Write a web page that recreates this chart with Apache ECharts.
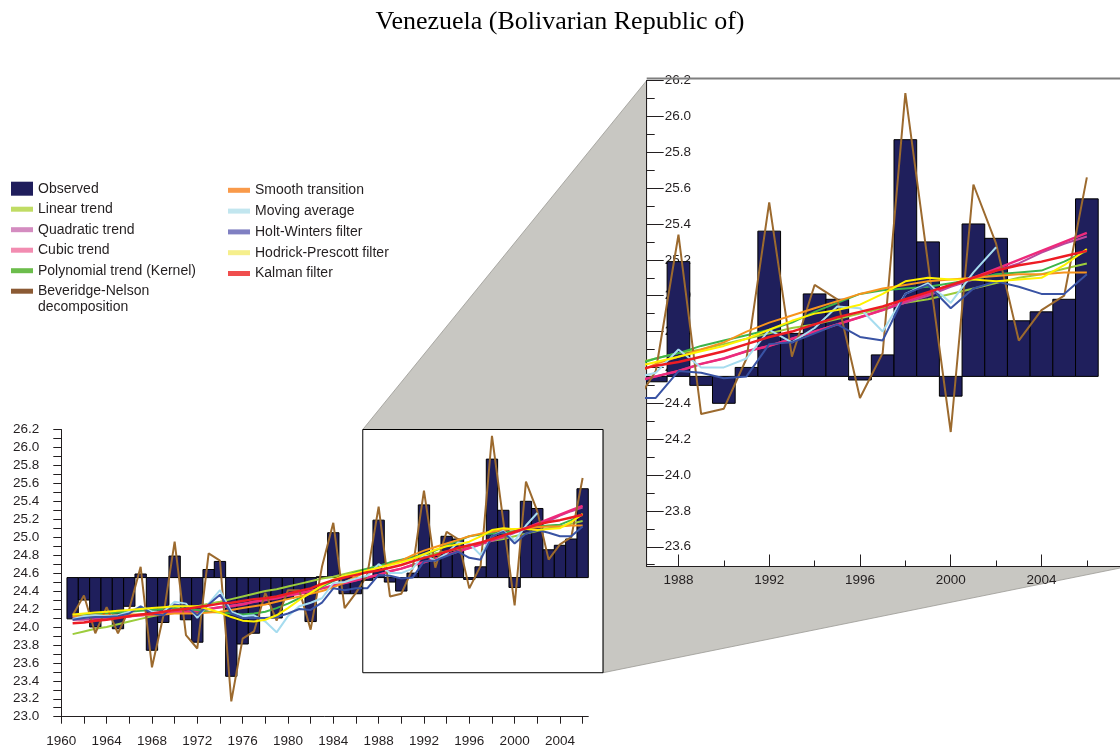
<!DOCTYPE html>
<html><head><meta charset="utf-8">
<script src="https://cdn.jsdelivr.net/npm/echarts@6/dist/echarts.min.js"></script>
<style>html,body{margin:0;padding:0;background:#fff}#c{width:1120px;height:750px}</style>
</head><body><div id="c"></div>
<script>
const titleText = 'Venezuela (Bolivarian Republic of)';
const years = [1961,1962,1963,1964,1965,1966,1967,1968,1969,1970,1971,1972,1973,1974,1975,1976,1977,1978,1979,1980,1981,1982,1983,1984,1985,1986,1987,1988,1989,1990,1991,1992,1993,1994,1995,1996,1997,1998,1999,2000,2001,2002,2003,2004,2005,2006];
const baseline = 24.55;
const observed = [24.09,24.30,24.00,24.17,23.98,24.23,24.59,23.74,24.05,24.79,24.08,23.83,24.64,24.73,23.45,23.81,23.93,24.25,24.10,24.32,24.38,24.06,24.56,25.05,24.37,24.37,24.52,25.19,24.50,24.40,24.60,25.36,24.79,25.01,24.98,24.53,24.67,25.87,25.30,24.44,25.40,25.32,24.86,24.91,24.98,25.54];
const linearTrend = [23.92,23.95,23.98,24.00,24.03,24.06,24.09,24.12,24.14,24.17,24.20,24.23,24.26,24.28,24.31,24.34,24.37,24.40,24.42,24.45,24.48,24.51,24.54,24.56,24.59,24.62,24.65,24.68,24.70,24.73,24.76,24.79,24.82,24.84,24.87,24.90,24.93,24.96,24.98,25.01,25.04,25.07,25.10,25.12,25.15,25.18];
const quadraticTrend = [24.08,24.08,24.09,24.10,24.11,24.12,24.13,24.14,24.15,24.16,24.17,24.19,24.20,24.22,24.24,24.26,24.28,24.30,24.33,24.35,24.38,24.40,24.43,24.46,24.49,24.52,24.55,24.58,24.62,24.65,24.69,24.72,24.76,24.80,24.84,24.88,24.92,24.96,25.00,25.05,25.09,25.14,25.18,25.24,25.29,25.33];
const cubicTrend = [24.11,24.11,24.11,24.11,24.12,24.12,24.13,24.14,24.15,24.16,24.17,24.18,24.20,24.22,24.23,24.25,24.28,24.30,24.32,24.35,24.37,24.40,24.43,24.46,24.49,24.52,24.55,24.58,24.62,24.65,24.69,24.72,24.76,24.80,24.84,24.88,24.92,24.97,25.01,25.06,25.10,25.15,25.20,25.25,25.30,25.35];
const kernelTrend = [24.12,24.13,24.14,24.15,24.16,24.17,24.18,24.19,24.20,24.21,24.20,24.19,24.17,24.16,24.15,24.14,24.15,24.17,24.21,24.26,24.32,24.38,24.45,24.51,24.56,24.61,24.65,24.68,24.72,24.75,24.78,24.81,24.85,24.91,24.96,25.01,25.03,25.04,25.05,25.07,25.09,25.12,25.13,25.14,25.19,25.25];
const beveridgeNelson = [24.13,24.35,23.93,24.22,23.93,24.20,24.67,23.55,24.12,24.95,23.91,23.76,24.82,24.74,23.17,23.87,23.95,24.38,24.07,24.41,24.41,23.97,24.67,25.16,24.21,24.38,24.58,25.34,24.34,24.37,24.65,25.52,24.66,25.06,24.98,24.43,24.68,26.13,25.18,24.24,25.62,25.29,24.75,24.92,25.00,25.66];
const smoothTransition = [24.12,24.12,24.13,24.13,24.13,24.14,24.14,24.14,24.14,24.15,24.15,24.15,24.16,24.17,24.19,24.21,24.23,24.25,24.28,24.31,24.34,24.37,24.40,24.44,24.50,24.56,24.62,24.66,24.70,24.74,24.80,24.85,24.89,24.93,24.97,25.01,25.04,25.06,25.08,25.09,25.10,25.11,25.12,25.12,25.13,25.13];
const movingAverage = [24.09,24.12,24.13,24.12,24.13,24.17,24.23,24.17,24.17,24.28,24.26,24.10,24.26,24.41,24.17,24.12,24.13,24.06,23.94,24.12,24.23,24.27,24.32,24.49,24.50,24.54,24.57,24.70,24.60,24.60,24.65,24.81,24.74,24.82,24.94,24.93,24.80,25.01,25.07,24.96,25.13,25.27,null,null,null,null];
const holtWinters = [24.08,24.10,24.11,24.11,24.12,24.15,24.23,24.15,24.13,24.25,24.23,24.13,24.25,24.36,24.15,24.10,24.10,24.10,24.11,24.15,24.20,24.19,24.27,24.43,24.41,24.43,24.43,24.58,24.57,24.54,24.55,24.73,24.74,24.79,24.84,24.77,24.75,25.01,25.06,24.93,25.04,25.08,25.05,25.01,25.01,25.12];
const hodrickPrescott = [24.14,24.15,24.16,24.17,24.18,24.19,24.20,24.21,24.22,24.23,24.23,24.23,24.20,24.16,24.11,24.07,24.06,24.08,24.13,24.21,24.30,24.38,24.46,24.53,24.57,24.60,24.63,24.66,24.69,24.72,24.76,24.81,24.86,24.90,24.92,24.95,25.01,25.08,25.10,25.09,25.09,25.08,25.09,25.10,25.17,25.26];
const kalmanFilter = [24.04,24.05,24.07,24.08,24.10,24.12,24.14,24.15,24.17,24.19,24.20,24.22,24.24,24.26,24.27,24.29,24.31,24.32,24.34,24.37,24.40,24.43,24.48,24.52,24.55,24.58,24.61,24.63,24.66,24.69,24.73,24.77,24.80,24.84,24.88,24.91,24.94,24.98,25.02,25.06,25.10,25.14,25.17,25.19,25.22,25.25];

const mainYTicks = [23.0,23.1,23.2,23.3,23.4,23.5,23.6,23.7,23.8,23.9,24.0,24.1,24.2,24.3,24.4,24.5,24.6,24.7,24.8,24.9,25.0,25.1,25.2,25.3,25.4,25.5,25.6,25.7,25.8,25.9,26.0,26.1,26.2];
const mainYLabels = [23.0,23.2,23.4,23.6,23.8,24.0,24.2,24.4,24.6,24.8,25.0,25.2,25.4,25.6,25.8,26.0,26.2];
const mainXTicks = [1960,1962,1964,1966,1968,1970,1972,1974,1976,1978,1980,1982,1984,1986,1988,1990,1992,1994,1996,1998,2000,2002,2004,2006];
const mainXLabels = [1960,1964,1968,1972,1976,1980,1984,1988,1992,1996,2000,2004];
const insetYMajor = [23.6,23.8,24.0,24.2,24.4,24.6,24.8,25.0,25.2,25.4,25.6,25.8,26.0,26.2];
const insetYMinor = [23.5,23.7,23.9,24.1,24.3,24.5,24.7,24.9,25.1,25.3,25.5,25.7,25.9,26.1];
const insetXMajor = [1988,1992,1996,2000,2004];
const insetXMinor = [1990,1994,1998,2002,2006];
const zoomX = [1986.6, 2007.8];
const zoomY = [23.49, 26.2];

const lineDefs = [
  {name:'Linear trend', data:linearTrend, color:'#9ccc3c', legend:'#c0dc64', w:2},
  {name:'Quadratic trend', data:quadraticTrend, color:'#b8489e', legend:'#d48cc0', w:2},
  {name:'Cubic trend', data:cubicTrend, color:'#ee2a7b', legend:'#f28cb1', w:2.5},
  {name:'Polynomial trend (Kernel)', data:kernelTrend, color:'#3db54a', legend:'#6cbd4c', w:2},
  {name:'Beveridge-Nelson decomposition', data:beveridgeNelson, color:'#9c6a2e', legend:'#8b5a34', w:2},
  {name:'Smooth transition', data:smoothTransition, color:'#f7941d', legend:'#f99a4a', w:2},
  {name:'Moving average', data:movingAverage, color:'#a6dcef', legend:'#c2e6ef', w:2},
  {name:'Holt-Winters filter', data:holtWinters, color:'#3953a4', legend:'#8080c2', w:2},
  {name:'Hodrick-Prescott filter', data:hodrickPrescott, color:'#fff200', legend:'#f6ef8c', w:2},
  {name:'Kalman filter', data:kalmanFilter, color:'#ed1c24', legend:'#f04e4e', w:2.5}
];

const FONT = 'Liberation Sans, Arial, sans-serif';
const TXT = '#231f20';
const chart = echarts.init(document.getElementById('c'), null, {renderer:'canvas'});

function barItem(params, api) {
  const x = api.value(0), v = api.value(1);
  const a = api.coord([x - 0.5, v]);
  const b = api.coord([x + 0.5, baseline]);
  return {type:'rect', shape:{x:a[0], y:Math.min(a[1], b[1]), width:b[0]-a[0], height:Math.abs(b[1]-a[1])},
    style:{fill:'#1f1f5c', stroke:'#000', lineWidth:1}};
}
const barData = years.map((y,i)=>[y, observed[i]]);

const series = [];
[[0,0],[1,1]].forEach(([xi, yi]) => {
  series.push({type:'custom', name:'Observed', xAxisIndex:xi, yAxisIndex:yi, clip:true,
    renderItem:barItem, data:barData, encode:{x:0, y:1}, itemStyle:{color:'#1f1f5c'}, z:2});
  lineDefs.forEach(d => {
    series.push({type:'line', name:d.name, xAxisIndex:xi, yAxisIndex:yi, clip:true,
      data: years.map((y,i)=>[y, d.data[i]]).filter(p => p[1] !== null),
      showSymbol:false, symbol:'none', color:d.color,
      lineStyle:{color:d.color, width:d.w}, z:3});
  });
});

const lineIcon = 'path://M0,0h22v5h-22z';
const legendText = {fontFamily:FONT, fontSize:14, color:TXT};
const leftNames = ['Linear trend','Quadratic trend','Cubic trend','Polynomial trend (Kernel)','Beveridge-Nelson decomposition'];
const rightNames = ['Smooth transition','Moving average','Holt-Winters filter','Hodrick-Prescott filter','Kalman filter'];
function legItem(n) {
  const d = lineDefs.find(l => l.name === n);
  return {name:n, icon:lineIcon, itemStyle:{color:d.legend, borderWidth:0}};
}

const axisTxt = {fontFamily:FONT, fontSize:13.5, color:TXT};
const axLine = {show:true, lineStyle:{color:'#231f20', width:1}};

chart.setOption({
  animation:false,
  backgroundColor:'#fff',
  title:{text:titleText, left:'center', top:4, textStyle:{fontFamily:'Liberation Serif, Times New Roman, serif', fontSize:26, fontWeight:'normal', color:'#000'}},
  legend:[
    {left:11, top:181.7, padding:0, orient:'vertical', itemWidth:22, itemHeight:14, itemGap:6.5, selectedMode:false,
     textStyle:legendText,
     formatter: n => n.startsWith('Beveridge') ? 'Beveridge-Nelson' : n,
     data:[{name:'Observed', icon:'rect', itemStyle:{color:'#1f1d5c', borderWidth:0}}].concat(leftNames.map(legItem))},
    {left:228, top:183.3, padding:0, orient:'vertical', itemWidth:22, itemHeight:14, itemGap:6.8, selectedMode:false,
     textStyle:legendText, data:rightNames.map(legItem)}
  ],
  grid:[
    {left:61.3, top:429.5, width:527, height:287.2, outerBoundsMode:'none'},
    {left:646.7, top:80.5, width:481, height:486, outerBoundsMode:'none'}
  ],
  xAxis:[
    {type:'value', gridIndex:0, min:1960, max:2006.5, axisLine:axLine, splitLine:{show:false},
     axisTick:{show:true, length:7, customValues:mainXTicks, lineStyle:{color:'#231f20'}},
     axisLabel:{customValues:mainXLabels, margin:18, ...axisTxt, formatter:v=>String(v)}},
    {type:'value', gridIndex:1, position:'bottom', min:zoomX[0], max:zoomX[1], axisLine:axLine, splitLine:{show:false},
     axisTick:{show:true, inside:true, length:12, customValues:insetXMajor, lineStyle:{color:'#231f20'}},
     axisLabel:{customValues:insetXMajor, margin:7, ...axisTxt, formatter:v=>String(v)}},
    {type:'value', gridIndex:1, position:'bottom', min:zoomX[0], max:zoomX[1], axisLine:{show:false}, splitLine:{show:false},
     axisTick:{show:true, inside:true, length:6, customValues:insetXMinor, lineStyle:{color:'#231f20'}},
     axisLabel:{show:false}}
  ],
  yAxis:[
    {type:'value', gridIndex:0, min:23.0, max:26.2, axisLine:axLine, splitLine:{show:false},
     axisTick:{show:true, length:8, customValues:mainYTicks, lineStyle:{color:'#231f20'}},
     axisLabel:{customValues:mainYLabels, margin:22, ...axisTxt, formatter:v=>v.toFixed(1)}},
    {type:'value', gridIndex:1, position:'left', min:zoomY[0], max:zoomY[1], axisLine:axLine, splitLine:{show:false},
     axisTick:{show:true, inside:true, length:17, customValues:insetYMajor, lineStyle:{color:'#231f20'}},
     axisLabel:{customValues:insetYMajor, inside:true, margin:18, ...axisTxt, formatter:v=>v.toFixed(1)}},
    {type:'value', gridIndex:1, position:'left', min:zoomY[0], max:zoomY[1], axisLine:{show:false}, splitLine:{show:false},
     axisTick:{show:true, inside:true, length:8, customValues:insetYMinor, lineStyle:{color:'#231f20'}},
     axisLabel:{show:false}}
  ],
  series:series
});

const tl = chart.convertToPixel({xAxisIndex:0, yAxisIndex:0}, [zoomX[0], zoomY[1]]);
const br = chart.convertToPixel({xAxisIndex:0, yAxisIndex:0}, [zoomX[1], zoomY[0]]);
const itl = chart.convertToPixel({xAxisIndex:1, yAxisIndex:1}, [zoomX[0], zoomY[1]]);
const ibr = chart.convertToPixel({xAxisIndex:1, yAxisIndex:1}, [zoomX[1], zoomY[0]]);

chart.setOption({
  graphic:[
    {type:'polygon', z:-10, silent:true,
     shape:{points:[tl, itl, [itl[0], ibr[1]], ibr, br, [br[0], tl[1]]]},
     style:{fill:'#c8c7c2', stroke:'#9a9994', lineWidth:0.8}},
    {type:'rect', z:100, silent:true,
     shape:{x:tl[0], y:tl[1], width:br[0]-tl[0], height:br[1]-tl[1]},
     style:{fill:null, stroke:'#000', lineWidth:1}},
    {type:'line', z:100, silent:true,
     shape:{x1:itl[0], y1:itl[1]-2, x2:ibr[0], y2:itl[1]-2},
     style:{stroke:'#7f7f7f', lineWidth:2}},
    {type:'text', z:100, silent:true, left:38, top:300,
     style:{text:'decomposition', fontFamily:FONT, fontSize:14, fill:TXT}}
  ]
});
</script>
</body></html>
